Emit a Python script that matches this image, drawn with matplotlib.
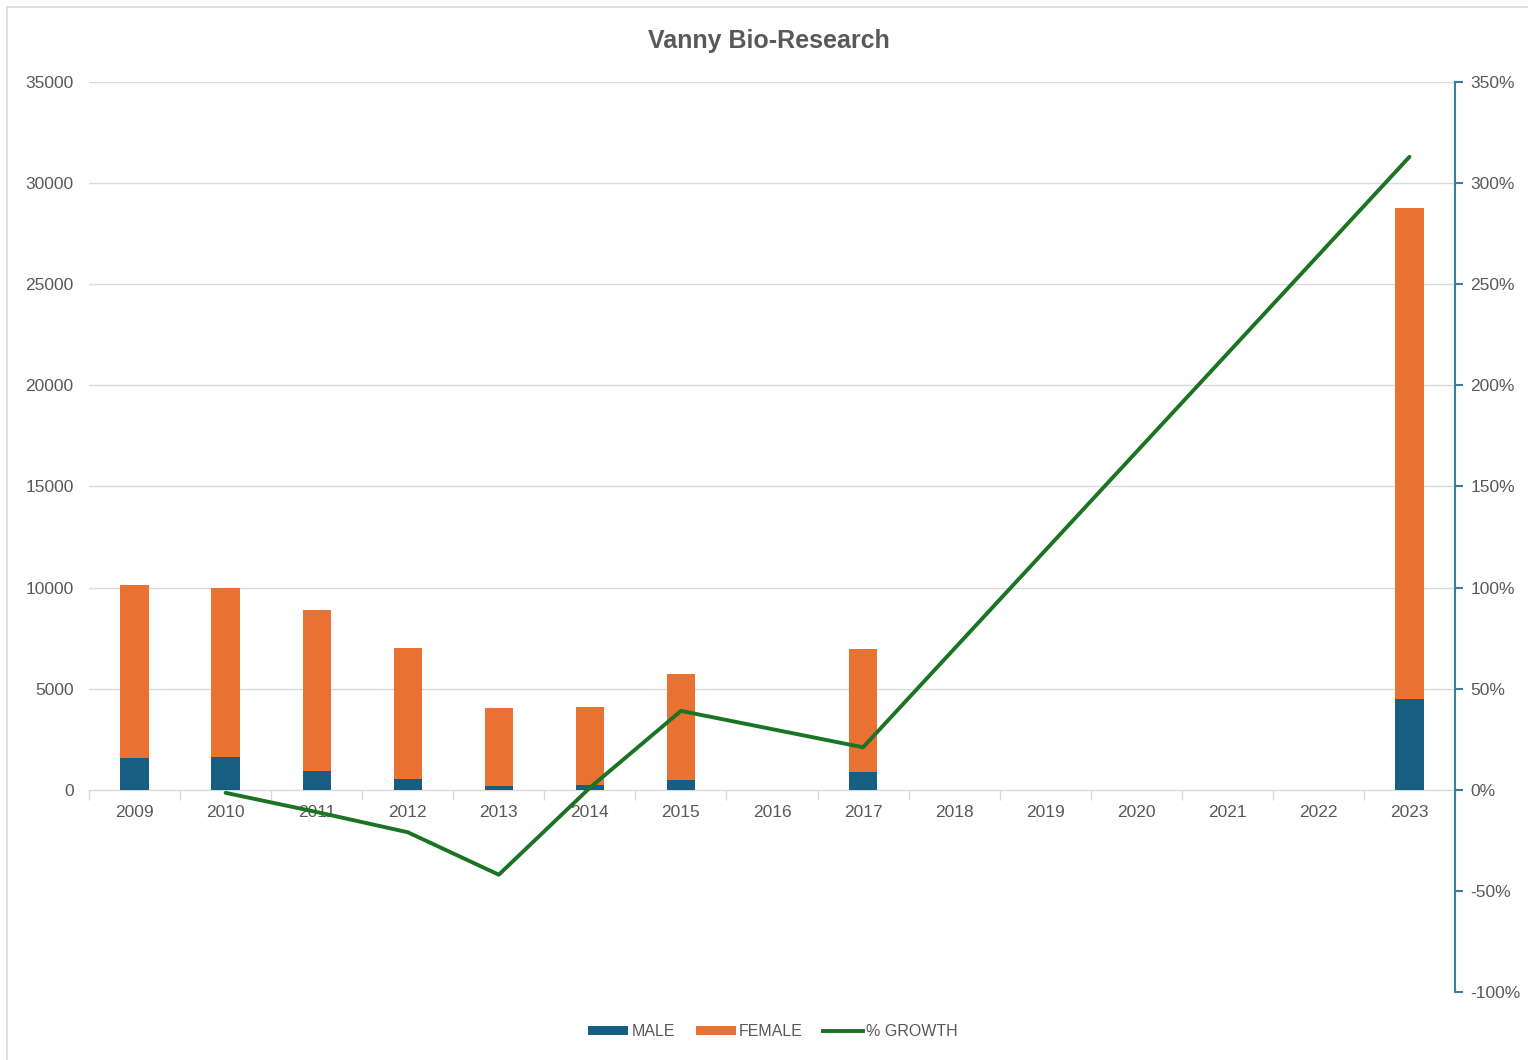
import numpy as np
import matplotlib
matplotlib.use("Agg")
import matplotlib.pyplot as plt
from matplotlib.patches import Rectangle, Patch
from matplotlib.lines import Line2D

# ---- data ----
years = ["2009", "2010", "2011", "2012", "2013", "2014", "2015", "2016",
         "2017", "2018", "2019", "2020", "2021", "2022", "2023"]
male = [1550, 1620, 950, 540, 210, 250, 500, np.nan, 900,
        np.nan, np.nan, np.nan, np.nan, np.nan, 4500]
female = [8600, 8380, 7950, 6480, 3840, 3850, 5220, np.nan, 6040,
          np.nan, np.nan, np.nan, np.nan, np.nan, 24260]
growth = [np.nan, -0.015, -0.11, -0.21, -0.42, 0.01, 0.39, np.nan, 0.21,
          np.nan, np.nan, np.nan, np.nan, np.nan, 3.13]

C_MALE = "#175F82"
C_FEMALE = "#E97132"
C_LINE = "#1B7324"
C_TEXT = "#595959"
C_GRID = "#D9D9D9"
C_RAX = "#3C7D9E"

plt.rcParams["font.family"] = ["Liberation Sans", "DejaVu Sans"]

fig = plt.figure(figsize=(15.28, 10.6), dpi=100)
fig.patches.append(Rectangle((0.0046, -0.01), 1.0, 1.003, transform=fig.transFigure,
                             fill=False, edgecolor="#D9D9D9", linewidth=1.2))

ax = fig.add_axes([89 / 1528, 1 - 992 / 1060, (1455 - 89) / 1528, (992 - 82) / 1060])
x = np.arange(len(years))
m = np.nan_to_num(male)
f = np.nan_to_num(female)
ax.bar(x, m, width=0.31, color=C_MALE, zorder=3)
ax.bar(x, f, width=0.31, bottom=m, color=C_FEMALE, zorder=3)

ax.set_xlim(-0.5, len(years) - 0.5)
ax.set_ylim(-10000, 35000)
ax.set_yticks(np.arange(0, 35001, 5000))
for v in np.arange(5000, 35001, 5000):
    ax.axhline(v, color=C_GRID, linewidth=1.0, zorder=1)
for s in ["top", "right", "left"]:
    ax.spines[s].set_visible(False)
ax.spines["bottom"].set_position(("data", 0))
ax.spines["bottom"].set_color(C_GRID)
ax.spines["bottom"].set_linewidth(1.0)
ax.spines["bottom"].set_zorder(2)

ax.set_xticks(x)
ax.set_xticklabels(years)
ax.set_xticks(np.arange(-0.5, len(years), 1.0), minor=True)
ax.tick_params(axis="x", which="major", length=0, pad=11, labelsize=12.5, labelcolor=C_TEXT)
ax.tick_params(axis="x", which="minor", length=7, color=C_GRID, width=1.0, direction="out")
ax.tick_params(axis="y", length=0, pad=11, labelsize=12.5, labelcolor=C_TEXT)

ax2 = ax.twinx()
ax2.set_ylim(-1.0, 3.5)
ax2.set_yticks(np.arange(-1.0, 3.51, 0.5))
ax2.set_yticklabels([f"{int(round(v * 100))}%" for v in np.arange(-1.0, 3.51, 0.5)])
for s in ["top", "left", "bottom"]:
    ax2.spines[s].set_visible(False)
ax2.spines["right"].set_color(C_RAX)
ax2.spines["right"].set_linewidth(1.5)
ax2.tick_params(axis="y", length=6, width=1.5, color=C_RAX, direction="out",
                pad=5, labelsize=12.5, labelcolor=C_TEXT)

g = np.array(growth)
ok = ~np.isnan(g)
ax2.plot(x[ok], g[ok], color=C_LINE, linewidth=2.8, solid_capstyle="round", zorder=4)

fig.text(0.503, 1 - 41 / 1060, "Vanny Bio-Research", ha="center", va="center",
         fontsize=18, fontweight="bold", color=C_TEXT,
         family=["Liberation Sans Narrow", "Liberation Sans", "DejaVu Sans"])

handles = [Patch(facecolor=C_MALE, label="MALE"),
           Patch(facecolor=C_FEMALE, label="FEMALE"),
           Line2D([0], [0], color=C_LINE, linewidth=2.8, label="% GROWTH")]
leg = fig.legend(handles=handles, loc="center", bbox_to_anchor=(0.506, 1 - 1032 / 1060),
                 ncol=3, frameon=False, fontsize=11.5, handlelength=2.5, handleheight=0.5,
                 handletextpad=0.2, columnspacing=1.3)
for t in leg.get_texts():
    t.set_color(C_TEXT)

fig.savefig("out.png", dpi=100)
